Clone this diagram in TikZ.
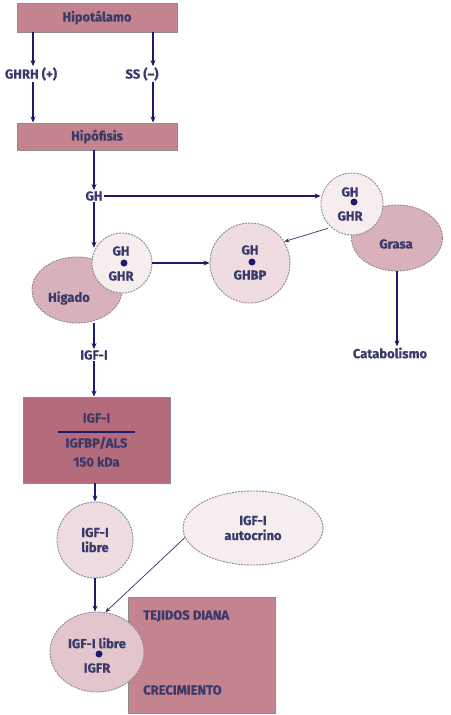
\documentclass[tikz,border=0pt]{standalone}
\usepackage{fontspec}
\setmainfont{Fira Sans}[FakeBold=0.6]
\usetikzlibrary{arrows.meta,shapes.geometric}
\definecolor{txt}{HTML}{3A3A6A}
\definecolor{navy}{HTML}{1C1C6A}
\definecolor{boxfill}{HTML}{C4848F}
\definecolor{boxdark}{HTML}{B46C7C}
\definecolor{ovalfill}{HTML}{D9B1BA}
\definecolor{circfill}{HTML}{F6EDEF}
\definecolor{libfill}{HTML}{EEDCE0}
\definecolor{igfrfill}{HTML}{E2C6CC}
\definecolor{edge}{HTML}{8E8A8C}
\newcommand\myfs{\fontsize{13}{15}\selectfont\bfseries}
\tikzset{
  lbl/.style={text=txt,font=\myfs,inner sep=1pt},
  pbox/.style={draw=edge,line width=0.9pt,fill=boxfill,text=txt,font=\myfs},
  bubble/.style={draw=edge,line width=0.9pt,dash pattern=on 2pt off 1pt,text=txt,font=\myfs,align=center},
  oval/.style={bubble,ellipse,inner sep=0pt},
  arr/.style={draw=navy,line width=1.1pt,-{Stealth[length=6pt,width=5pt]}},
  thinarr/.style={draw=navy!80!gray,line width=0.7pt,-{Stealth[length=5pt,width=4pt]}},
  dot/.style={circle,fill=navy,inner sep=0pt,minimum size=7pt}
}
\begin{document}
\begin{tikzpicture}[x=1pt,y=-1pt]
\useasboundingbox (0,0) rectangle (450,715);
% top boxes
\node[pbox,minimum width=160pt,minimum height=29pt] (hipo) at (97,17.5) {Hipotálamo};
\node[lbl] (ghrh) at (31,74) {GHRH (+)};
\node[lbl] (ss) at (142,74) {SS (--)};
\node[pbox,minimum width=160pt,minimum height=27pt] (hipof) at (97,136.5) {Hipófisis};
\coordinate (a1) at (33,32);
\coordinate (a2) at (153,32);
\draw[arr] (hipo.south -| a1) -- (ghrh.north -| a1);
\draw[arr] (hipo.south -| a2) -- (ss.north -| a2);
\draw[arr] (ghrh.south -| a1) -- (hipof.north -| a1);
\draw[arr] (ss.south -| a2) -- (hipof.north -| a2);
% GH
\node[lbl] (gh) at (94,196) {GH};
\draw[arr] (hipof.south -| gh) -- (gh.north);
% liver
\node[oval,fill=ovalfill,minimum width=90pt,minimum height=66pt] (higado) at (77,290) {};
\node[lbl] at (69,298) {Higado};
\node[bubble,circle,fill=circfill,minimum size=60pt,inner sep=0pt] (ghr1) at (122,263) {};
\node[lbl] (ghr1a) at (121,251) {GH};
\node[lbl] (ghr1b) at (121,276) {GHR};
\node[dot] (d1) at (124,263) {};
% fat
\node[oval,fill=ovalfill,minimum width=91pt,minimum height=66pt] (grasa) at (397,238) {};
\node[lbl] at (396,244) {Grasa};
\node[bubble,circle,fill=circfill,minimum size=62pt,inner sep=0pt] (ghr2) at (352,204) {};
\node[lbl] (ghr2a) at (350,192) {GH};
\node[lbl] (ghr2b) at (350,216) {GHR};
\node[dot] (d2) at (354,202) {};
% GHBP
\node[bubble,circle,fill=libfill,minimum size=80pt,inner sep=0pt] (ghbp) at (250,263) {};
\node[lbl] (ghbpa) at (250,250) {GH};
\node[lbl] (ghbpb) at (250,275) {GHBP};
\node[dot] (d3) at (252,262) {};
% connectors
\draw[arr] (gh.east) -- (gh.east -| ghr2.west);
\draw[arr] (gh.south) -- (gh.south |- ghr1.150);
\draw[arr] (ghr1.east) -- (ghbp.west);
\draw[thinarr,shorten <=3pt] (ghr2.228) -- (ghbp.32);
\node[lbl] (catab) at (390,353) {Catabolismo};
\draw[arr] (grasa.south) -- (grasa.south |- catab.north);
% IGF-I
\node[lbl] (igf) at (94,355) {IGF-I};
\draw[arr] (higado.south -| igf) -- (igf.north);
\node[pbox,fill=boxdark,minimum width=147pt,minimum height=86pt,align=center] (igfbox) at (96.5,440) {IGF-I\\[-5pt]{\color{navy}\rule{77pt}{2pt}}\\[0pt]IGFBP/ALS\\[4pt]150 kDa};
\draw[arr] (igf.south) -- (igfbox.north -| igf);
\node[bubble,circle,fill=libfill,minimum size=76pt,inner sep=0pt] (libre) at (95,540) {IGF-I\\libre};
\draw[arr] (igfbox.south -| libre) -- (libre.north);
\node[oval,fill=circfill,minimum width=140pt,minimum height=74pt] (auto) at (253,528) {IGF-I\\autocrino};
% target tissues
\node[pbox,minimum width=147pt,minimum height=116pt] (tej) at (201.5,655) {};
\node[lbl,anchor=west] (tejt) at (142,616) {TEJIDOS DIANA};
\node[lbl,anchor=west] (crec) at (142,690) {CRECIMIENTO};
\node[oval,fill=igfrfill,minimum width=94pt,minimum height=80pt] (igfr) at (97,652) {};
\node[lbl] (igfra) at (97,643) {IGF-I libre};
\node[lbl] (igfrb) at (97,668) {IGFR};
\node[dot] (d4) at (99,654) {};
\draw[arr] (libre.south) -- (libre.south |- igfr.north);
\draw[thinarr] (auto.188) -- (igfr.78);
\end{tikzpicture}
\end{document}
